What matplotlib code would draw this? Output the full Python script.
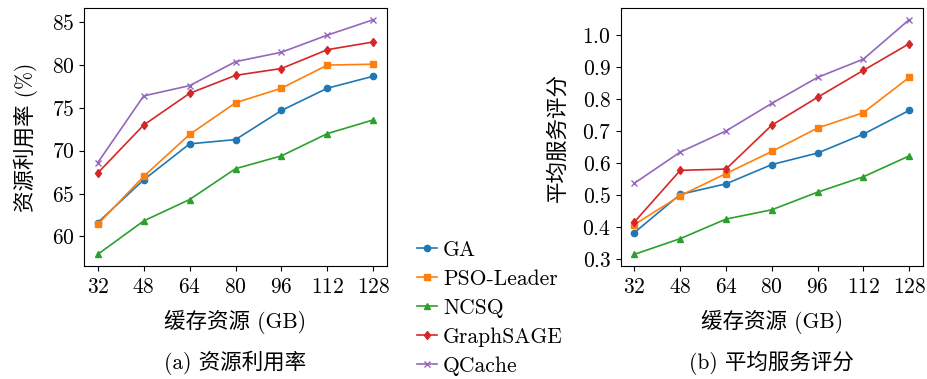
import matplotlib
matplotlib.use('Agg')
import matplotlib.pyplot as plt

plt.rcParams['font.family'] = ['cmr10', 'Noto Sans CJK SC']
plt.rcParams['axes.formatter.use_mathtext'] = True
plt.rcParams['font.size'] = 15.5

# cache size (GB)
cache_gb = [32, 48, 64, 80, 96, 112, 128]

# (a) resource utilisation (%)
util_ga = [61.6, 66.6, 70.8, 71.3, 74.7, 77.3, 78.7]
util_pso = [61.4, 67.0, 71.9, 75.6, 77.3, 80.0, 80.1]
util_ncsq = [57.9, 61.8, 64.3, 67.9, 69.4, 72.0, 73.6]
util_sage = [67.4, 73.0, 76.7, 78.8, 79.6, 81.8, 82.7]
util_qcache = [68.6, 76.4, 77.6, 80.4, 81.5, 83.5, 85.3]

# (b) average service score
score_ga = [0.383, 0.502, 0.535, 0.595, 0.631, 0.690, 0.764]
score_pso = [0.408, 0.498, 0.567, 0.636, 0.709, 0.757, 0.867]
score_ncsq = [0.315, 0.364, 0.425, 0.454, 0.509, 0.557, 0.622]
score_sage = [0.416, 0.577, 0.581, 0.718, 0.805, 0.889, 0.972]
score_qcache = [0.537, 0.634, 0.700, 0.786, 0.867, 0.924, 1.047]

names = ['GA', 'PSO-Leader', 'NCSQ', 'GraphSAGE', 'QCache']
markers = ['o', 's', '^', 'd', 'x']
colors = ['#1f77b4', '#ff7f0e', '#2ca02c', '#d62728', '#9467bd']

fig = plt.figure(figsize=(9.27, 3.79), dpi=100)
ax1 = fig.add_axes([0.0906, 0.298, 0.327, 0.681])
ax2 = fig.add_axes([0.6696, 0.298, 0.326, 0.681])

util = [util_ga, util_pso, util_ncsq, util_sage, util_qcache]
score = [score_ga, score_pso, score_ncsq, score_sage, score_qcache]

for i in range(5):
    ax1.plot(cache_gb, util[i], marker=markers[i], color=colors[i], label=names[i],
             linewidth=1.2, markersize=4.5)
    ax2.plot(cache_gb, score[i], marker=markers[i], color=colors[i], label=names[i],
             linewidth=1.2, markersize=4.5)

for ax in (ax1, ax2):
    ax.set_xticks(cache_gb)
    ax.tick_params(axis='x', pad=5)
    ax.set_xlabel('缓存资源 (GB)', labelpad=9)
ax1.set_yticks([60, 65, 70, 75, 80, 85])
ax1.set_ylabel('资源利用率 (%)', labelpad=10)
ax2.set_yticks([0.3, 0.4, 0.5, 0.6, 0.7, 0.8, 0.9, 1.0])
ax2.set_ylabel('平均服务评分', labelpad=10)

handles, labels = ax1.get_legend_handles_labels()
fig.legend(handles, labels, loc='center left', bbox_to_anchor=(0.434, 0.187),
           frameon=False, handlelength=0.9, handletextpad=0.3, labelspacing=0.44,
           borderpad=0.2)

fig.text(0.254, 0.042, '(a) 资源利用率', ha='center', va='center')
fig.text(0.832, 0.042, '(b) 平均服务评分', ha='center', va='center')

fig.savefig('out.png', dpi=100)
